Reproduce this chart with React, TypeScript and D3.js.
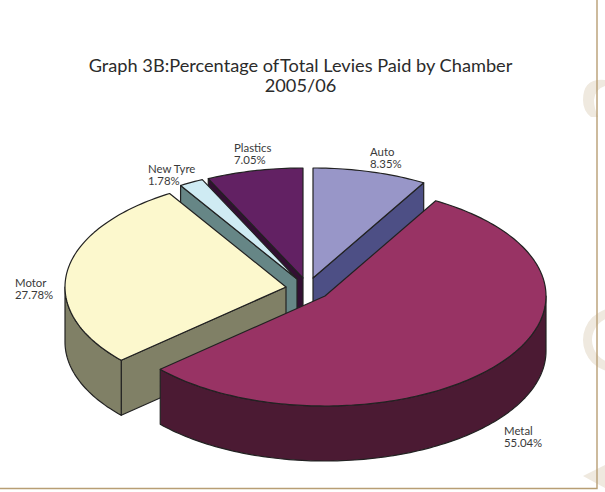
import React from "react";
import * as d3 from "d3";

// Share of total levies by chamber, clockwise from twelve o'clock.
const chambers = ["Auto", "Metal", "Motor", "New Tyre", "Plastics"];
const shares = [8.35, 55.04, 27.78, 1.78, 7.05];
const shareLabels = ["8.35%", "55.04%", "27.78%", "1.78%", "7.05%"];
const topColors = ["#9896c8", "#983364", "#fcf8cd", "#cfebf3", "#622163"];
const sideColors = ["#4d4f85", "#4b1a33", "#808066", "#668686", "#330f33"];

const W = 605;
const H = 492;
const RX = 221;
const RY = 110;
const DEPTH = 55;
const EDGE = "#222222";

// Exploded position of every wedge's apex and the anchor of its caption.
const apexes: [number, number][] = [[313, 278], [325, 296], [286, 287], [297, 279], [303, 278]];
const captions: [number, number][] = [[370, 156], [504, 435], [15, 287], [148, 173], [234, 152]];
const paintOrder = [4, 0, 3, 2, 1];

const pieAngles = d3.pie<number>().sort(null)(shares);
const lineGen = d3.line<[number, number]>();

const onRim = (c: [number, number], a: number, dy = 0): [number, number] => [
  c[0] + RX * Math.sin(a),
  c[1] - RY * Math.cos(a) + dy,
];

const rim = (c: [number, number], a0: number, a1: number, dy = 0): [number, number][] => {
  const n = Math.max(2, Math.ceil(Math.abs(a1 - a0) / 0.02));
  const s = d3.scaleLinear().domain([0, n]).range([a0, a1]);
  return d3.range(n + 1).map((i) => onRim(c, s(i), dy));
};

const sheet = (p0: [number, number], p1: [number, number]): [number, number][] => [
  p0,
  p1,
  [p1[0], p1[1] + DEPTH],
  [p0[0], p0[1] + DEPTH],
];

function Wedge({ index }: { index: number }) {
  const c = apexes[index];
  const { startAngle: a0, endAngle: a1 } = pieAngles[index];
  const side = sideColors[index];
  const parts: [number, number][][] = [];

  // Cut faces, visible only when they turn towards the viewer.
  if (a0 > Math.PI && a0 < 2 * Math.PI) parts.push(sheet(c, onRim(c, a0)));
  if (a1 > 0 && a1 < Math.PI) parts.push(sheet(c, onRim(c, a1)));

  // Outer wall: only the front half of the rim shows.
  const w0 = Math.max(a0, Math.PI / 2);
  const w1 = Math.min(a1, (3 * Math.PI) / 2);
  if (w1 > w0) {
    parts.push([...rim(c, w0, w1), ...rim(c, w1, w0, DEPTH)]);
  }

  const top: [number, number][] = [c, ...rim(c, a0, a1)];
  return (
    <g stroke={EDGE} strokeWidth={1.2} strokeLinejoin="round">
      {parts.map((p, i) => (
        <path key={i} d={lineGen(p) + "Z"} fill={side} />
      ))}
      <path d={lineGen(top) + "Z"} fill={topColors[index]} />
    </g>
  );
}

export default function App() {
  const ring = d3.arc()({ innerRadius: 23, outerRadius: 32, startAngle: 0, endAngle: 2 * Math.PI }) as string;
  return (
    <svg
      width={W}
      height={H}
      viewBox={`0 0 ${W} ${H}`}
      style={{ position: "absolute", left: 0, top: 0, background: "#fff" }}
      fontFamily="Lato, sans-serif"
    >
      {/* Watermark fragments behind the right-hand rule */}
      <g fill="#efe9df">
        <path d="M605,80Q583,78 583,100Q583,111 591,117L598,117Q594,108 594,100Q595,89 605,86Z" />
        <path d={ring} transform="translate(615,340)" />
        <path d={d3.line()([[583, 476], [605, 465], [605, 488]]) + "Z"} />
      </g>
      <path d="M597,0V488.5H0" fill="none" stroke="#b89e74" strokeWidth={1.4} />

      <g fill="#2b2b2b" fontSize={18.2} textAnchor="middle">
        <text x={300.5} y={71.5}>
          Graph 3B:Percentage of<tspan dx={-3}> Total Levies Paid by Chamber</tspan>
        </text>
        <text x={300.5} y={92}>2005/06</text>
      </g>

      {paintOrder.map((i) => (
        <Wedge key={chambers[i]} index={i} />
      ))}

      <g fill="#3a3a3a" fontSize={11.4}>
        {chambers.map((name, i) => (
          <text key={name} x={captions[i][0]} y={captions[i][1]}>
            <tspan x={captions[i][0]}>{name}</tspan>
            <tspan x={captions[i][0]} dy={12.3}>{shareLabels[i]}</tspan>
          </text>
        ))}
      </g>
    </svg>
  );
}
